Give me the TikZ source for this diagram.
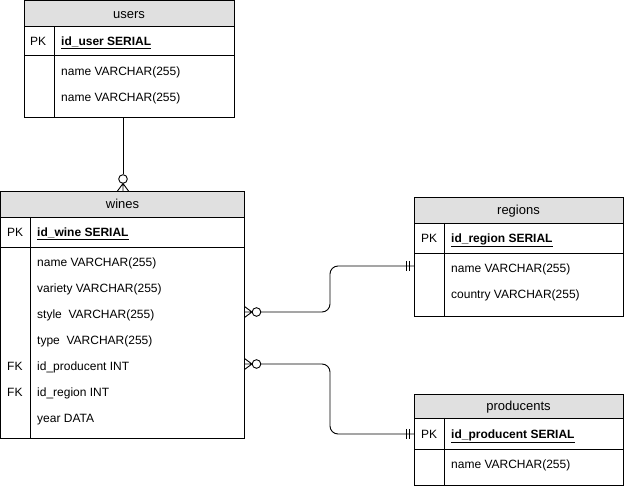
\documentclass[tikz,border=0pt]{standalone}
\usepackage{fontspec}
\setmainfont{Liberation Sans}
\usetikzlibrary{calc}
\definecolor{hdrgray}{HTML}{E0E0E0}
\tikzset{
  tblhead/.style={draw=black, fill=hdrgray, line width=0.9pt, inner sep=0pt, outer sep=0pt, anchor=north west, text height=10pt, text depth=0pt, font=\fontsize{13}{15}\selectfont},
  tblrow/.style={draw=black, fill=white, line width=0.9pt, inner sep=0pt, outer sep=0pt, anchor=north west},
  fld/.style={anchor=base west, inner sep=0pt, font=\fontsize{12}{14}\selectfont},
  key/.style={anchor=base west, inner sep=0pt, font=\fontsize{12}{14}\selectfont},
  pkf/.style={anchor=base west, inner sep=0pt, font=\fontsize{12}{14}\selectfont\bfseries},
  conn/.style={draw=black, line width=0.9pt},
  divider/.style={draw=black, line width=0.9pt}
}
\newcommand{\pkname}[1]{\underline{#1}}
\begin{document}
\begin{tikzpicture}[x=1pt,y=-1pt]
\useasboundingbox (0,0) rectangle (625,486);

% ---------- users ----------
\node[tblhead, minimum width=210pt, minimum height=26pt] (usersH) at (24,0.5) {users};
\node[tblrow, minimum width=210pt, minimum height=29pt] (usersPK) at (usersH.south west) {};
\node[tblrow, minimum width=210pt, minimum height=62pt] (usersB) at (usersPK.south west) {};
\draw[divider] ($(usersPK.north west)+(30,0)$) -- ($(usersB.south west)+(30,0)$);
\node[key] (usersK) at (30,45.3) {PK};
\node[pkf] (usersId) at (61,45.3) {\pkname{id\_user SERIAL}};
\node[fld] (usersF1) at (61,75.3) {name VARCHAR(255)};
\node[fld] (usersF2) at (61,101.3) {name VARCHAR(255)};

% ---------- wines ----------
\node[tblhead, minimum width=244pt, minimum height=26pt] (winesH) at (0.5,191) {wines};
\node[tblrow, minimum width=244pt, minimum height=30pt] (winesPK) at (winesH.south west) {};
\node[tblrow, minimum width=244pt, minimum height=191pt] (winesB) at (winesPK.south west) {};
\draw[divider] ($(winesPK.north west)+(30,0)$) -- ($(winesB.south west)+(30,0)$);
\node[key] (winesK) at (7,236.3) {PK};
\node[pkf] (winesId) at (37,236.3) {\pkname{id\_wine SERIAL}};
\node[fld] (winesF1) at (37,266.3) {name VARCHAR(255)};
\node[fld] (winesF2) at (37,292.3) {variety VARCHAR(255)};
\node[fld] (winesF3) at (37,318.3) {style\ \ VARCHAR(255)};
\node[fld] (winesF4) at (37,344.3) {type\ \ VARCHAR(255)};
\node[fld] (winesF5) at (37,370.3) {id\_producent INT};
\node[fld] (winesF6) at (37,396.3) {id\_region INT};
\node[fld] (winesF7) at (37,422.3) {year DATA};
\node[key] (winesK5) at (7,370.3) {FK};
\node[key] (winesK6) at (7,396.3) {FK};

% ---------- regions ----------
\node[tblhead, minimum width=209pt, minimum height=26pt] (regionsH) at (414,197) {regions};
\node[tblrow, minimum width=209pt, minimum height=30pt] (regionsPK) at (regionsH.south west) {};
\node[tblrow, minimum width=209pt, minimum height=63pt] (regionsB) at (regionsPK.south west) {};
\draw[divider] ($(regionsPK.north west)+(30,0)$) -- ($(regionsB.south west)+(30,0)$);
\node[key] (regionsK) at (421,242.3) {PK};
\node[pkf] (regionsId) at (451,242.3) {\pkname{id\_region SERIAL}};
\node[fld] (regionsF1) at (451,272.3) {name VARCHAR(255)};
\node[fld] (regionsF2) at (451,298.3) {country VARCHAR(255)};

% ---------- producents ----------
\node[tblhead, minimum width=209pt, minimum height=24pt] (prodH) at (414,394) {producents};
\node[tblrow, minimum width=209pt, minimum height=31pt] (prodPK) at (prodH.south west) {};
\node[tblrow, minimum width=209pt, minimum height=36pt] (prodB) at (prodPK.south west) {};
\draw[divider] ($(prodPK.north west)+(30,0)$) -- ($(prodB.south west)+(30,0)$);
\node[key] (prodK) at (421,438.3) {PK};
\node[pkf] (prodId) at (451,438.3) {\pkname{id\_producent SERIAL}};
\node[fld] (prodF1) at (451,468.3) {name VARCHAR(255)};

% ---------- connector users -> wines (one to zero-or-many) ----------
\coordinate (c1a) at (usersB.south -| 123,0);
\coordinate (c1b) at (winesH.north -| 123,0);
\draw[conn] (c1a) -- ($(c1b)+(0,-16.5)$);
\draw[conn, fill=white] ($(c1b)+(0,-12)$) circle (4.3pt);
\draw[conn] ($(c1b)+(0,-7.5)$) -- ($(c1b)+(-5.5,0)$)
            ($(c1b)+(0,-7.5)$) -- (c1b)
            ($(c1b)+(0,-7.5)$) -- ($(c1b)+(5.5,0)$);

% ---------- connector wines.style -> regions ----------
\coordinate (c2a) at (winesB.east |- 0,312);
\coordinate (c2b) at (regionsB.west |- 0,266);
\draw[conn, rounded corners=8pt] ($(c2a)+(16,0)$) -- (330,312) -- (330,266) -- (c2b);
\draw[conn, fill=white] ($(c2a)+(12,0)$) circle (4.3pt);
\draw[conn] ($(c2a)+(7.5,0)$) -- ($(c2a)+(0,-5.5)$)
            ($(c2a)+(7.5,0)$) -- (c2a)
            ($(c2a)+(7.5,0)$) -- ($(c2a)+(0,5.5)$);
\draw[conn] ($(c2b)+(-8,-5)$) -- ($(c2b)+(-8,5)$)
            ($(c2b)+(-4.5,-5)$) -- ($(c2b)+(-4.5,5)$);

% ---------- connector wines.id_producent -> producents ----------
\coordinate (c3a) at (winesB.east |- 0,364);
\coordinate (c3b) at (prodPK.west |- 0,434);
\draw[conn, rounded corners=8pt] ($(c3a)+(16,0)$) -- (330,364) -- (330,434) -- (c3b);
\draw[conn, fill=white] ($(c3a)+(12,0)$) circle (4.3pt);
\draw[conn] ($(c3a)+(7.5,0)$) -- ($(c3a)+(0,-5.5)$)
            ($(c3a)+(7.5,0)$) -- (c3a)
            ($(c3a)+(7.5,0)$) -- ($(c3a)+(0,5.5)$);
\draw[conn] ($(c3b)+(-8,-5)$) -- ($(c3b)+(-8,5)$)
            ($(c3b)+(-4.5,-5)$) -- ($(c3b)+(-4.5,5)$);
\end{tikzpicture}
\end{document}
